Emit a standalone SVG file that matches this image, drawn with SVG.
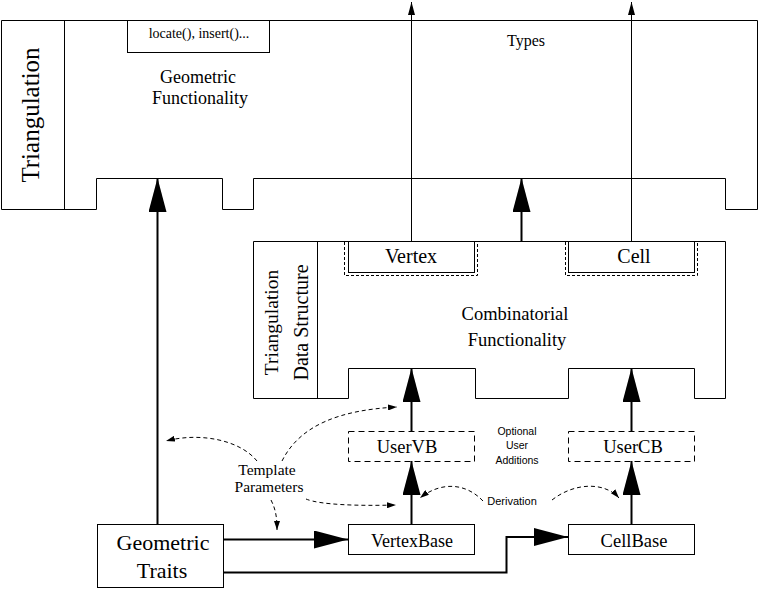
<svg xmlns="http://www.w3.org/2000/svg" width="759" height="589" viewBox="0 0 759 589">
<style>
.box{fill:none;stroke:#000;stroke-width:1}
.dash{fill:none;stroke:#000;stroke-width:1;stroke-dasharray:6 4}
.dashs{fill:none;stroke:#000;stroke-width:1;stroke-dasharray:3 2}
.conn{fill:none;stroke:#000;stroke-width:2}
.thin{fill:none;stroke:#000;stroke-width:1}
.curve{fill:none;stroke:#000;stroke-width:1;stroke-dasharray:4 3}
text{font-family:"Liberation Serif","Times New Roman",serif;fill:#000;text-anchor:middle}
.sans{font-family:"Liberation Sans",Arial,sans-serif}
</style>
<defs>
<marker id="big" viewBox="0 0 34 18" refX="34" refY="9" markerWidth="34" markerHeight="18" markerUnits="userSpaceOnUse" orient="auto"><path d="M0,0 L34,9 L0,18 Z" fill="#000"/></marker>
<marker id="tiny" viewBox="0 0 13 7" refX="13" refY="3.5" markerWidth="13" markerHeight="7" markerUnits="userSpaceOnUse" orient="auto"><path d="M0,0 L13,3.5 L0,7 Z" fill="#000"/></marker>
<marker id="dart" viewBox="0 0 9 6" refX="9" refY="3" markerWidth="9" markerHeight="6" markerUnits="userSpaceOnUse" orient="auto"><path d="M0,0 L9,3 L0,6 Z" fill="#000"/></marker>
</defs>

<g id="triangulation">
<path class="box" d="M1.5,20.5 H757.5 V209.5 H725.5 V178.5 H253.5 V209.5 H222.5 V178.5 H96.5 V209.5 H1.5 Z"/>
<line class="box" x1="64.5" y1="20.5" x2="64.5" y2="209.5"/>
<text transform="translate(39,115) rotate(-90)" font-size="25">Triangulation</text>
<text x="198" y="83" font-size="18">Geometric</text>
<text x="200" y="104" font-size="18">Functionality</text>
<text x="526" y="46" font-size="16">Types</text>
</g>

<g id="locate">
<rect class="box" x="127.5" y="20.5" width="142" height="32" fill="#fff"/>
<text x="199" y="38" font-size="14">locate(), insert()...</text>
</g>

<g id="tds">
<path class="box" d="M253.5,241.5 H725.5 V398.5 H694.5 V368.5 H568.5 V398.5 H475.5 V368.5 H348.5 V398.5 H253.5 Z"/>
<line class="box" x1="317.5" y1="241.5" x2="317.5" y2="398.5"/>
<text transform="translate(278,322.5) rotate(-90)" font-size="19.5">Triangulation</text>
<text transform="translate(308,322.5) rotate(-90)" font-size="20">Data Structure</text>
<text x="515" y="320" font-size="18.5">Combinatorial</text>
<text x="517" y="346" font-size="18.5">Functionality</text>
</g>

<g id="vertex">
<rect class="box" x="348.5" y="241.5" width="126" height="31"/>
<path class="dashs" d="M344.5,242 V275.5 H477.5 V242"/>
<text x="411" y="263" font-size="20">Vertex</text>
</g>

<g id="cell">
<rect class="box" x="568.5" y="241.5" width="126" height="31"/>
<path class="dashs" d="M565.5,242 V275.5 H697.5 V242"/>
<text x="634" y="263" font-size="20">Cell</text>
</g>

<g id="uservb">
<rect class="dash" x="348.5" y="431.5" width="126" height="30"/>
<text x="407" y="453" font-size="18.5">UserVB</text>
</g>

<g id="usercb">
<rect class="dash" x="568.5" y="431.5" width="126" height="30"/>
<text x="633" y="453" font-size="18.5">UserCB</text>
</g>

<g id="vertexbase">
<rect class="box" x="348.5" y="524.5" width="126" height="30"/>
<text x="412" y="547" font-size="18">VertexBase</text>
</g>

<g id="cellbase">
<rect class="box" x="568.5" y="524.5" width="126" height="30"/>
<text x="634" y="547" font-size="18.5">CellBase</text>
</g>

<g id="traits">
<rect class="box" x="97.5" y="524.5" width="126" height="63"/>
<text x="163" y="550" font-size="22">Geometric</text>
<text x="162" y="578" font-size="22">Traits</text>
</g>

<g id="labels">
<text x="267" y="475" font-size="15.5">Template</text>
<text x="269" y="492" font-size="15.5">Parameters</text>
<text class="sans" x="517" y="435" font-size="10.5">Optional</text>
<text class="sans" x="517" y="449" font-size="10.5">User</text>
<text class="sans" x="517" y="464" font-size="10.5">Additions</text>
<text class="sans" x="512" y="505" font-size="11">Derivation</text>
</g>

<g id="connectors">
<path class="conn" d="M157.5,524 V178" marker-end="url(#big)"/>
<path class="conn" d="M521.5,241.5 V178" marker-end="url(#big)"/>
<path class="conn" d="M411.5,431 V368" marker-end="url(#big)"/>
<path class="conn" d="M631.5,431 V368" marker-end="url(#big)"/>
<path class="conn" d="M411.5,524 V461" marker-end="url(#big)"/>
<path class="conn" d="M631.5,524 V461" marker-end="url(#big)"/>
<path class="conn" d="M223,539.5 H348" marker-end="url(#big)"/>
<path class="conn" d="M223,572.5 H506.5 V537 H568" marker-end="url(#big)"/>
<path class="thin" d="M411.5,241 V2" marker-end="url(#tiny)"/>
<path class="thin" d="M631.5,241 V2" marker-end="url(#tiny)"/>
<path class="curve" d="M257,461 C240,440 200,432 166,441" marker-end="url(#dart)"/>
<path class="curve" d="M282,461 C300,425 340,410 397,407" marker-end="url(#dart)"/>
<path class="curve" d="M306,499 C320,505 360,506 396,505" marker-end="url(#dart)"/>
<path class="curve" d="M271,500 C276,510 277,518 277,530" marker-end="url(#dart)"/>
<path class="curve" d="M483,501 C465,482 440,482 420,498" marker-end="url(#dart)"/>
<path class="curve" d="M552,500 C575,482 605,482 619,498" marker-end="url(#dart)"/>
</g>
</svg>
